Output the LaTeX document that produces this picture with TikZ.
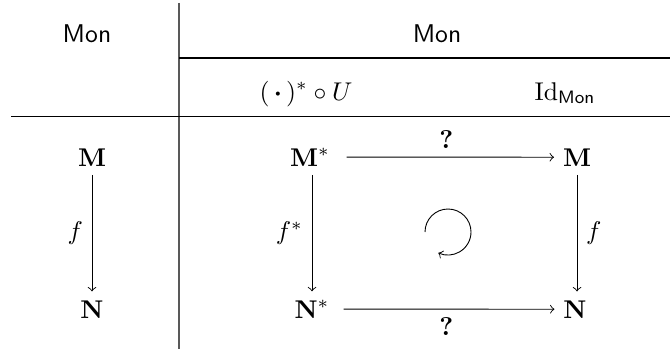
\documentclass[tikz,border=0pt]{standalone}
\usepackage{amsmath,amssymb}
\usepackage{tikz}
\usetikzlibrary{arrows.meta}

\begin{document}
\begin{tikzpicture}[x=0.39pt,y=-0.39pt,>=to,line width=0.35pt]
  \def\rtop{166}
  \def\rbot{318}
  \useasboundingbox (0,0) rectangle (670,349);
  % table rules
  \draw[gray!70!black,line width=0.6pt] (179,3) -- (179,349);
  \draw[line width=0.5pt] (179,58) -- (670,58);
  \draw[line width=0.5pt] (11,116.5) -- (670,116.5);
  % headers
  \node[anchor=base] (hdL) at (87,43) {\textsf{Mon}};
  \node[anchor=base] (hdR) at (437,43) {\textsf{Mon}};
  \node[anchor=base] (hdF) at (306,100) {$(\,\boldsymbol{\cdot}\,)^*\circ U$};
  \node[anchor=base] (hdI) at (565,100) {$\mathrm{Id}_{\textsf{Mon}}$};
  % left column
  \node[anchor=base] (M) at (92,\rtop) {$\mathbf{M}$};
  \node[anchor=base] (N) at (92,\rbot) {$\mathbf{N}$};
  \draw[->] (M) -- (N) node[midway,left] {$f$};
  % right square
  \node[anchor=base] (Ms) at (310,\rtop) {$\mathbf{M}^*$};
  \node[anchor=base] (Mr) at (577,\rtop) {$\mathbf{M}$};
  \node[anchor=base] (Ns) at (312,\rbot) {$\mathbf{N}^*$};
  \node[anchor=base] (Nr) at (575,\rbot) {$\mathbf{N}$};
  \draw[->,shorten <=3pt] (Ms) -- (Mr) node[midway,above] {$\boldsymbol{?}$};
  \draw[->,shorten <=2pt] (Ns) -- (Nr) node[midway,below] {$\boldsymbol{?}$};
  \draw[->] (Ms.south -| 312,0) -- (Ns.north -| 312,0) node[midway,left] {$f^*$};
  \draw[->] (Mr.south -| 577,0) -- (Nr.north -| 577,0) node[midway,right] {$f$};
  % commutes
  \draw[->] (448,232) ++(180:23) arc[start angle=180,end angle=475,radius=23];
\end{tikzpicture}
\end{document}
